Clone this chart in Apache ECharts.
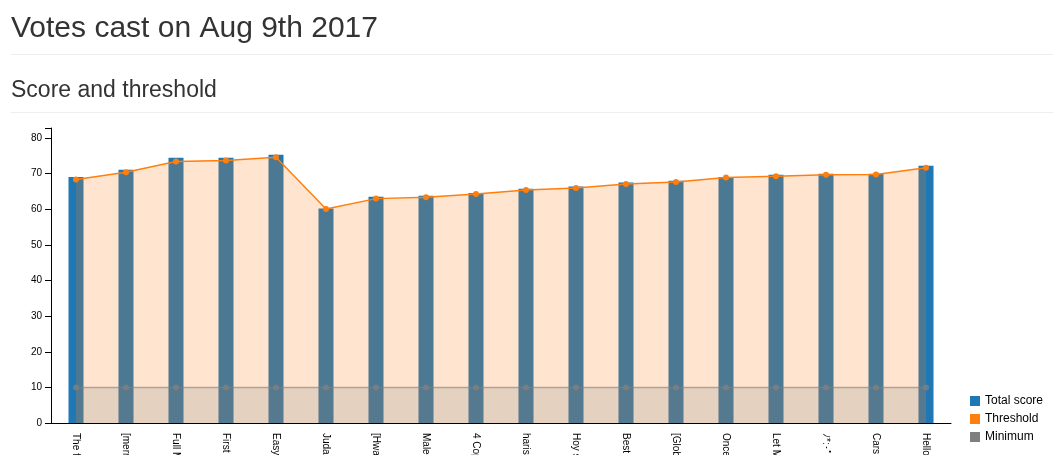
<!DOCTYPE html>
<html>
<head>
<meta charset="utf-8">
<script src="https://cdn.jsdelivr.net/npm/echarts@6/dist/echarts.min.js"></script>
<style>
html,body{margin:0;padding:0;background:#fff;}
#chart{width:1053px;height:455px;}
</style>
</head>
<body>
<div id="chart"></div>
<script>
const categories = ["The final", "[merry", "Full Metal", "First", "Easy A", "Judas", "[Hwayugi]", "Male", "4 Cops", "harish", "Hoy si", "Best of", "[Global]", "Once upon", "Let Me", "ﾉ*:･ﾟ✧", "Cars", "Hello"];
const totalScore = [69.1, 71.1, 74.5, 74.5, 75.3, 60.2, 63.5, 63.8, 64.6, 65.8, 66.4, 67.5, 68.0, 69.1, 69.7, 70.0, 70.0, 72.2];
const threshold = [68.4, 70.4, 73.4, 73.7, 74.6, 60.1, 63.0, 63.4, 64.3, 65.4, 66.0, 67.1, 67.7, 68.9, 69.3, 69.7, 69.8, 71.7];
const minimum = [10, 10, 10, 10, 10, 10, 10, 10, 10, 10, 10, 10, 10, 10, 10, 10, 10, 10];
const yTicks = [0, 10, 20, 30, 40, 50, 60, 70, 80];

const FONT = '"Helvetica Neue", Helvetica, Arial, "Liberation Sans", sans-serif';
const chart = echarts.init(document.getElementById('chart'), null, {renderer: 'canvas'});
const yMax = Math.max(...totalScore) * 1.1;

chart.setOption({
  animation: false,
  textStyle: {fontFamily: FONT},
  graphic: [
    {type: 'text', left: 11, top: 14, style: {text: 'Votes cast on Aug 9th 2017', font: '30px ' + FONT, fill: '#333'}},
    {type: 'rect', shape: {x: 11, y: 54, width: 1042, height: 1}, style: {fill: '#eee'}},
    {type: 'text', left: 11, top: 79, style: {text: 'Score and threshold', font: '23px ' + FONT, fill: '#333'}},
    {type: 'rect', shape: {x: 11, y: 112, width: 1042, height: 1}, style: {fill: '#eee'}}
  ],
  legend: {
    orient: 'vertical',
    left: 970,
    top: 395,
    height: 60,
    padding: 0,
    icon: 'rect',
    itemWidth: 10,
    itemHeight: 10,
    itemGap: 6,
    textStyle: {fontSize: 12, color: '#000', fontFamily: FONT},
    data: [
      {name: 'Total score', itemStyle: {color: '#1f77b4', opacity: 1}},
      {name: 'Threshold', itemStyle: {color: '#ff7f0e', opacity: 1}},
      {name: 'Minimum', itemStyle: {color: '#7f7f7f', opacity: 1}}
    ]
  },
  grid: {left: 51, right: 102, top: 128, bottom: 32, containLabel: false, outerBoundsMode: 'none'},
  xAxis: {
    type: 'category',
    data: categories,
    boundaryGap: true,
    axisLine: {lineStyle: {color: '#000', width: 1}},
    axisTick: {length: 6, lineStyle: {color: '#000'}},
    axisLabel: {rotate: -90, interval: 0, fontSize: 10, color: '#000', margin: 10, fontFamily: FONT}
  },
  yAxis: {
    type: 'value',
    min: 0,
    max: yMax,
    interval: 10,
    axisLine: {show: true, lineStyle: {color: '#000', width: 1}},
    axisTick: {show: true, length: 6, lineStyle: {color: '#000'}},
    axisLabel: {fontSize: 10, color: '#000', margin: 9, fontFamily: FONT,
      formatter: v => yTicks.includes(v) ? String(v) : ''},
    splitLine: {show: false}
  },
  series: [
    {
      name: 'Total score',
      type: 'bar',
      data: totalScore,
      barWidth: 15,
      itemStyle: {color: '#1f77b4'},
      z: 1
    },
    {
      name: 'Threshold',
      type: 'line',
      data: threshold,
      color: '#ff7f0e',
      symbol: 'circle',
      symbolSize: 6,
      showSymbol: true,
      lineStyle: {color: '#ff7f0e', width: 1.5},
      itemStyle: {color: '#ff7f0e'},
      areaStyle: {color: '#ff7f0e', opacity: 0.2, origin: 'start'},
      z: 3
    },
    {
      name: 'Minimum',
      type: 'line',
      data: minimum,
      color: '#7f7f7f',
      symbol: 'circle',
      symbolSize: 6,
      lineStyle: {color: '#7f7f7f', width: 1.5, opacity: 0.6},
      itemStyle: {color: '#7f7f7f', opacity: 0.8},
      areaStyle: {color: '#7f7f7f', opacity: 0.2, origin: 'start'},
      z: 4
    }
  ]
});
</script>
</body>
</html>
